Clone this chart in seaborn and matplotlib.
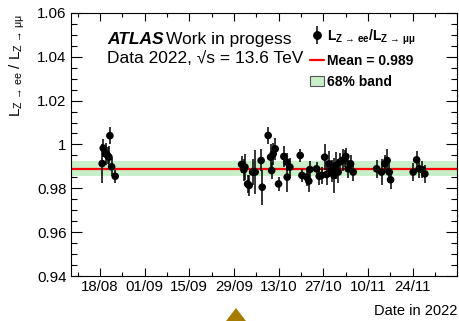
import numpy as np
import pandas as pd
import matplotlib
matplotlib.use('Agg')
import matplotlib.pyplot as plt
import matplotlib.dates as mdates
from matplotlib.ticker import MultipleLocator, FuncFormatter
from matplotlib.lines import Line2D
from matplotlib.patches import Patch, Polygon
import seaborn as sns

# Per-run luminosity ratio
run_dates = [
    '2022-08-18 17:00', '2022-08-19 01:00', '2022-08-19 19:00', '2022-08-20 10:00',
    '2022-08-20 20:00', '2022-08-21 03:00', '2022-08-21 16:00', '2022-08-22 19:00',
    '2022-10-01 10:00', '2022-10-02 03:00', '2022-10-02 11:00', '2022-10-03 07:00',
    '2022-10-03 19:00', '2022-10-04 21:00', '2022-10-05 16:00', '2022-10-07 13:00',
    '2022-10-07 21:00', '2022-10-09 18:00', '2022-10-10 12:00', '2022-10-10 20:00',
    '2022-10-11 08:00', '2022-10-11 23:00', '2022-10-13 00:00', '2022-10-14 16:00',
    '2022-10-15 13:00', '2022-10-15 17:00', '2022-10-16 13:00', '2022-10-19 19:00',
    '2022-10-20 08:00', '2022-10-21 19:00', '2022-10-22 12:00', '2022-10-22 20:00',
    '2022-10-24 22:00', '2022-10-25 18:00', '2022-10-26 12:00', '2022-10-27 11:00',
    '2022-10-28 02:00', '2022-10-28 19:00', '2022-10-29 15:00', '2022-10-30 08:00',
    '2022-10-30 23:00', '2022-10-31 17:00', '2022-11-01 06:00', '2022-11-02 02:00',
    '2022-11-02 19:00', '2022-11-03 03:00', '2022-11-03 20:00', '2022-11-04 14:00',
    '2022-11-05 10:00',
    '2022-11-12 18:00', '2022-11-14 07:00', '2022-11-15 08:00', '2022-11-16 01:00',
    '2022-11-16 17:00', '2022-11-17 03:00',
    '2022-11-24 05:00', '2022-11-25 07:00', '2022-11-26 02:00', '2022-11-27 01:00',
    '2022-11-27 21:00',
]
ratio = [
    0.9913, 0.9983, 0.9957, 0.9950, 0.9942, 1.0040, 0.9898, 0.9855,
    0.9909, 0.9885, 0.9897, 0.9820, 0.9813, 0.9874, 0.9874, 0.9927,
    0.9805, 1.0041, 0.9942, 0.9881, 0.9957, 0.9980, 0.9820, 0.9945,
    0.9920, 0.9851, 0.9897, 0.9950, 0.9859, 0.9851, 0.9833, 0.9886,
    0.9889, 0.9855, 0.9859, 0.9942, 0.9863, 0.9912, 0.9881, 0.9859,
    0.9904, 0.9874, 0.9920, 0.9927, 0.9935, 0.9945, 0.9889, 0.9912,
    0.9874,
    0.9889, 0.9874, 0.9912, 0.9927, 0.9874, 0.9839,
    0.9874, 0.9930, 0.9889, 0.9885, 0.9866,
]
ratio_err = [
    0.009, 0.004, 0.005, 0.004, 0.005, 0.004, 0.004, 0.003,
    0.004, 0.005, 0.006, 0.004, 0.005, 0.006, 0.010, 0.005,
    0.008, 0.004, 0.006, 0.004, 0.005, 0.005, 0.003, 0.005,
    0.004, 0.007, 0.004, 0.003, 0.003, 0.004, 0.005, 0.004,
    0.003, 0.004, 0.004, 0.006, 0.005, 0.006, 0.005, 0.008,
    0.006, 0.005, 0.004, 0.005, 0.004, 0.004, 0.004, 0.004,
    0.004,
    0.004, 0.006, 0.004, 0.005, 0.005, 0.004,
    0.004, 0.004, 0.004, 0.004, 0.004,
]
mean_ratio = 0.989
band_low, band_high = 0.9855, 0.9925

major_dates = pd.date_range('2022-08-18', periods=8, freq='14D')
minor_dates = pd.date_range('2022-08-11', '2022-12-08', freq='7D')

df = pd.DataFrame({'date': pd.to_datetime(run_dates), 'ratio': ratio, 'err': ratio_err})

sns.set_style('ticks')
plt.rcParams['font.family'] = ['Liberation Sans', 'DejaVu Sans']
plt.rcParams['mathtext.fontset'] = 'custom'
plt.rcParams['mathtext.rm'] = 'Liberation Sans'
plt.rcParams['mathtext.it'] = 'Liberation Sans:italic'
plt.rcParams['mathtext.bf'] = 'Liberation Sans:bold'
for k in ['text.color', 'axes.labelcolor', 'xtick.color', 'ytick.color']:
    plt.rcParams[k] = 'black'

fig = plt.figure(figsize=(4.59, 3.21), dpi=100)
ax = fig.add_axes([0.154, 0.140, 0.842, 0.820])

# 68% band and mean
ax.axhspan(band_low, band_high, color='#c8efc8', lw=0, zorder=1)
ax.axhline(mean_ratio, color='#ff0000', lw=1.6, zorder=2)

# points with error bars
ax.errorbar(df['date'], df['ratio'], yerr=df['err'], fmt='none', ecolor='black', elinewidth=1.1, capsize=0, zorder=3)
sns.scatterplot(data=df, x='date', y='ratio', color='black', s=30, edgecolor='none', ax=ax, zorder=4)

ax.set_xlim(pd.Timestamp('2022-08-08 20:00'), pd.Timestamp('2022-12-08'))
ax.set_ylim(0.94, 1.06)

ax.set_xticks(major_dates)
ax.set_xticks(minor_dates, minor=True)
ax.xaxis.set_major_formatter(mdates.DateFormatter('%d/%m'))
ax.yaxis.set_major_locator(MultipleLocator(0.02))
ax.yaxis.set_minor_locator(MultipleLocator(0.005))
ax.yaxis.set_major_formatter(FuncFormatter(lambda v, p: '%g' % round(v, 3)))

ax.tick_params(which='both', direction='in', top=True, right=True, color='black', width=0.8, labelsize=10.8, pad=3)
ax.tick_params(axis='y', which='major', length=8)
ax.tick_params(axis='y', which='minor', length=4)
ax.tick_params(axis='x', which='major', length=6)
ax.tick_params(axis='x', which='minor', length=3)
for s in ax.spines.values():
    s.set_color('black')
    s.set_linewidth(0.8)

ax.set_xlabel('Date in 2022', fontsize=10.5, loc='right')
ax.xaxis.set_label_coords(1.0, -0.105)
ax.set_ylabel(r'$\mathrm{L_{Z\,\rightarrow\,ee}}$ / $\mathrm{L_{Z\,\rightarrow\,\mu\mu}}$', fontsize=11, loc='top')
ax.yaxis.set_label_coords(-0.112, 0.995)

# ATLAS label
ax.text(0.094, 0.898, 'ATLAS', transform=ax.transAxes, fontsize=12.5, fontweight='bold', fontstyle='italic', va='center')
ax.text(0.246, 0.898, 'Work in progess', transform=ax.transAxes, fontsize=12.5, va='center')
ax.text(0.094, 0.828, 'Data 2022, √s = 13.6 TeV', transform=ax.transAxes, fontsize=12.5, va='center')

# legend
h_pts = (Line2D([], [], marker='|', ms=13, mew=1.1, color='black', ls='none'),
         Line2D([], [], marker='o', ms=5.3, color='black', ls='none'))
h_mean = Line2D([], [], color='#ff0000', lw=1.6)
h_band = Patch(facecolor='#c8efc8', edgecolor='#555555', lw=0.8)
leg = ax.legend([h_pts, h_mean, h_band],
                [r'$\mathbf{L_{Z\,\rightarrow\,ee}/L_{Z\,\rightarrow\,\mu\mu}}$', 'Mean = 0.989', '68% band'],
                loc='upper left', bbox_to_anchor=(0.62, 0.945), frameon=False,
                prop={'size': 10, 'weight': 'bold'}, handlelength=1.0, handletextpad=0.2,
                labelspacing=0.5, borderpad=0, borderaxespad=0)

# marker at the bottom of the image
fig.patches.append(Polygon([[0.4924, 0.0], [0.5359, 0.0], [0.5142, 0.0405]], closed=True,
                           transform=fig.transFigure, facecolor='#a67c00', edgecolor='none'))

fig.savefig('out.png', dpi=100)
